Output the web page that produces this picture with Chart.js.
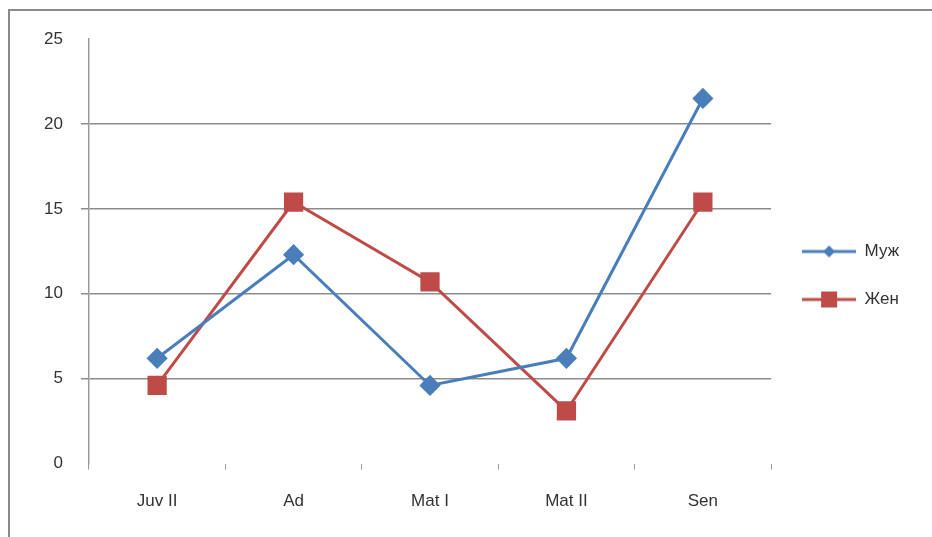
<!DOCTYPE html>
<html>
<head>
<meta charset="utf-8">
<script src="https://cdn.jsdelivr.net/npm/chart.js@4/dist/chart.umd.min.js"></script>
<style>
  html, body { margin: 0; padding: 0; background: #fff; overflow: hidden; }
  #wrap { position: relative; width: 932px; height: 537px; overflow: hidden; }
  #frame { position: absolute; left: 8px; top: 9px; width: 940px; height: 540px;
           border-left: 2px solid #8a8a8a; border-top: 2px solid #8a8a8a; }
  canvas { position: absolute; left: 0; top: 0; }
</style>
</head>
<body>
<div id="wrap">
  <div id="frame"></div>
  <canvas id="c" width="932" height="539"></canvas>
</div>
<script>
var categories = ['Juv II', 'Ad', 'Mat I', 'Mat II', 'Sen'];
var male = [6.2, 12.3, 4.6, 6.2, 21.5];
var female = [4.6, 15.4, 10.7, 3.1, 15.4];
var yTicks = [0, 5, 10, 15, 20, 25];

var blue = '#4a7ebb';
var red = '#be4b48';

// legend swatch: a line with the marker in the middle
function swatch(color, shape) {
  var cv = document.createElement('canvas');
  cv.width = 54;
  cv.height = 20;
  var g = cv.getContext('2d');
  g.strokeStyle = color;
  g.lineWidth = 3;
  g.beginPath();
  g.moveTo(0, 10);
  g.lineTo(54, 10);
  g.stroke();
  g.fillStyle = color;
  if (shape === 'diamond') {
    g.beginPath();
    g.moveTo(27, 4); g.lineTo(33, 10); g.lineTo(27, 16); g.lineTo(21, 10);
    g.closePath();
    g.fill();
  } else {
    g.fillRect(19, 2, 16, 16);
  }
  return cv;
}

// nudge the legend up a bit, it sits above the middle in the original
var legendShift = {
  id: 'legendShift',
  afterLayout: function (chart) {
    chart.legend.top -= 11;
    chart.legend.bottom -= 11;
  }
};

var font = { family: "'Liberation Sans', Arial, sans-serif", size: 17 };

new Chart(document.getElementById('c'), {
  type: 'line',
  data: {
    labels: categories,
    datasets: [
      {
        label: 'Муж',
        data: male,
        borderColor: blue,
        backgroundColor: blue,
        borderWidth: 3,
        pointStyle: 'rectRot',
        pointRadius: 8.5,
        pointHoverRadius: 8.5,
        tension: 0,
        legendStyle: swatch(blue, 'diamond')
      },
      {
        label: 'Жен',
        data: female,
        borderColor: red,
        backgroundColor: red,
        borderWidth: 3,
        pointStyle: 'rect',
        pointRadius: 11.5,
        pointHoverRadius: 11.5,
        tension: 0,
        legendStyle: swatch(red, 'square')
      }
    ]
  },
  options: {
    responsive: false,
    animation: false,
    layout: { padding: { left: 26, right: 23, top: 39, bottom: 5 } },
    plugins: {
      tooltip: { enabled: false },
      legend: {
        position: 'right',
        labels: {
          usePointStyle: true,
          pointStyleWidth: 54,
          padding: 31,
          color: '#333',
          font: font,
          generateLabels: function (chart) {
            return chart.data.datasets.map(function (ds, i) {
              return {
                text: ds.label,
                pointStyle: ds.legendStyle,
                fontColor: '#333',
                datasetIndex: i,
                lineWidth: 0
              };
            });
          }
        }
      }
    },
    scales: {
      x: {
        offset: true,
        grid: {
          offset: true,
          drawOnChartArea: false,
          tickLength: 6,
          color: '#9a9a9a'
        },
        border: { display: false },
        ticks: { color: '#333', font: font, padding: 22 }
      },
      y: {
        min: 0,
        max: 25,
        afterBuildTicks: function (axis) {
          axis.ticks = yTicks.map(function (v) { return { value: v }; });
        },
        grid: {
          tickLength: 8,
          lineWidth: 1.5,
          color: function (ctx) {
            var v = ctx.tick ? ctx.tick.value : null;
            return (v === 0 || v === 25) ? 'rgba(0,0,0,0)' : '#8c8c8c';
          }
        },
        border: { display: true, color: '#9a9a9a', width: 1.5 },
        ticks: { color: '#333', font: font, padding: 18 }
      }
    }
  },
  plugins: [legendShift]
});
</script>
</body>
</html>
